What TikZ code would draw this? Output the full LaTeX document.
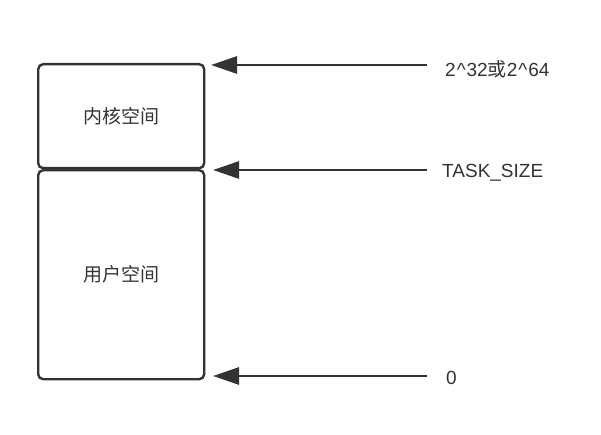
\documentclass[tikz,border=0pt]{standalone}
\usepackage{fontspec}
\setmainfont{Liberation Sans}
\newfontfamily\cjk{Noto Sans CJK SC}
\usetikzlibrary{arrows.meta}
\definecolor{ink}{HTML}{333333}
\definecolor{txt}{HTML}{333333}
\begin{document}
\begin{tikzpicture}[x=1pt,y=-1pt,
  region/.style={draw=ink,line width=2.4pt,rounded corners=5pt,fill=white,
    minimum width=166pt,inner sep=0pt,anchor=north west,
    font=\cjk\fontsize{19}{22}\selectfont,text=txt},
  pointer/.style={draw=ink,line width=2.8pt,
    -{Triangle[length=26pt,width=17pt]}},
  mark label/.style={anchor=west,inner sep=0pt,text=txt,
    font=\fontsize{19}{22}\selectfont}]
  \useasboundingbox (0,0) rectangle (601,435);
  % address space regions
  \node[region,minimum height=104pt] (kernel) at (37,63) {\raisebox{-2pt}{内核空间}};
  \node[region,minimum height=209pt] (user) at (37,169) {\raisebox{-2pt}{用户空间}};
  % boundary labels
  \node[mark label] (lTop) at (445,69) {2\kern1pt\^{}\kern1pt32{\cjk 或}2\kern1pt\^{}\kern1pt64};
  \node[mark label] (lTask) at (442,173) {TASK\_SIZE};
  \node[mark label] (lZero) at (446,378) {0};
  % pointer tails and tips
  \coordinate (sTop) at (427,65);
  \coordinate (tTop) at (211,65);
  \coordinate (sTask) at (427,170);
  \coordinate (tTask) at (213,170);
  \coordinate (sZero) at (427,376);
  \coordinate (tZero) at (213,376);
  \draw[pointer] (sTop) -- (tTop);
  \draw[pointer] (sTask) -- (tTask);
  \draw[pointer] (sZero) -- (tZero);
\end{tikzpicture}
\end{document}
